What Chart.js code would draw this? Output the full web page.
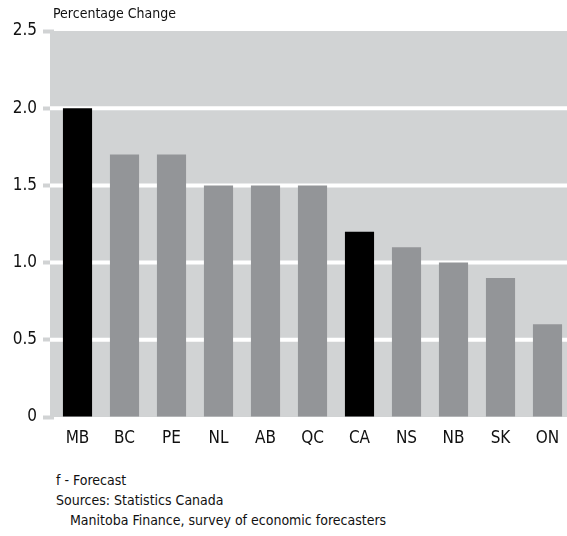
<!DOCTYPE html>
<html>
<head>
<meta charset="utf-8">
<script src="https://cdn.jsdelivr.net/npm/chart.js@4/dist/chart.umd.min.js"></script>
<style>
  html, body { margin: 0; padding: 0; background: #fff; }
  body { width: 567px; height: 536px; position: relative; overflow: hidden;
         font-family: "DejaVu Sans Condensed", "Liberation Sans Narrow", sans-serif; color: #111; }
  #wrap { position: absolute; left: 0; top: 0; width: 571px; height: 455px; }
  #ytitle { position: absolute; left: 53px; top: 5px; font-size: 14px; }
  #notes { position: absolute; left: 56px; top: 470px; font-size: 14px; line-height: 20px; }
  #notes .ind { padding-left: 14px; }
</style>
</head>
<body>
<div id="wrap"><canvas id="chart"></canvas></div>
<div id="ytitle">Percentage Change</div>
<div id="notes">
  <div>f - Forecast</div>
  <div>Sources: Statistics Canada</div>
  <div class="ind">Manitoba Finance, survey of economic forecasters</div>
</div>
<script>
// provinces, sorted by forecast growth
const provinces = ['MB', 'BC', 'PE', 'NL', 'AB', 'QC', 'CA', 'NS', 'NB', 'SK', 'ON'];
const growth = [2.0, 1.7, 1.7, 1.5, 1.5, 1.5, 1.2, 1.1, 1.0, 0.9, 0.6];
const highlighted = ['MB', 'CA'];
const yTicks = [0, 0.5, 1.0, 1.5, 2.0, 2.5];

const BG = '#d1d3d4';
const BG_LEFT = 50;

// grey panel behind the bars, starting a little left of the first category
const plotBg = {
  id: 'plotBg',
  beforeDraw(chart) {
    const a = chart.chartArea;
    const ctx = chart.ctx;
    ctx.save();
    ctx.fillStyle = BG;
    ctx.fillRect(BG_LEFT, a.top, chart.width - BG_LEFT, a.bottom - a.top);
    ctx.restore();
  },
  // white gridlines over the whole panel, under the bars
  beforeDatasetsDraw(chart) {
    const y = chart.scales.y;
    const ctx = chart.ctx;
    ctx.save();
    ctx.strokeStyle = '#ffffff';
    ctx.lineWidth = 4;
    yTicks.forEach(v => {
      if (v === 0 || v === 2.5) return;
      const py = y.getPixelForValue(v);
      ctx.beginPath();
      ctx.moveTo(BG_LEFT, py);
      ctx.lineTo(chart.width, py);
      ctx.stroke();
    });
    ctx.restore();
  }
};

const font = { family: '"DejaVu Sans Condensed", "Liberation Sans Narrow", sans-serif', size: 17 };

new Chart(document.getElementById('chart'), {
  type: 'bar',
  data: {
    labels: provinces,
    datasets: [{
      data: growth,
      backgroundColor: provinces.map(p => highlighted.includes(p) ? '#000000' : '#939598'),
      borderWidth: 0,
      categoryPercentage: 1,
      barPercentage: 0.62
    }]
  },
  options: {
    responsive: true,
    maintainAspectRatio: false,
    animation: false,
    layout: { padding: { top: 31, right: 0, left: 0, bottom: 0 } },
    plugins: { legend: { display: false }, tooltip: { enabled: false } },
    scales: {
      x: {
        grid: { display: false },
        border: { display: false },
        ticks: { color: '#111', font: font, padding: 3 },
        afterFit(scale) { scale.height = 38; }
      },
      y: {
        min: 0,
        max: 2.5,
        afterBuildTicks(scale) { scale.ticks = yTicks.map(v => ({ value: v })); },
        afterFit(scale) { scale.width = 54; },
        border: { display: false },
        grid: {
          drawOnChartArea: false,
          color: BG,
          tickLength: 11,
          tickWidth: 4
        },
        ticks: {
          color: '#111',
          font: font,
          padding: 6,
          callback: v => v === 0 ? '0' : v.toFixed(1)
        }
      }
    }
  },
  plugins: [plotBg]
});
</script>
</body>
</html>
